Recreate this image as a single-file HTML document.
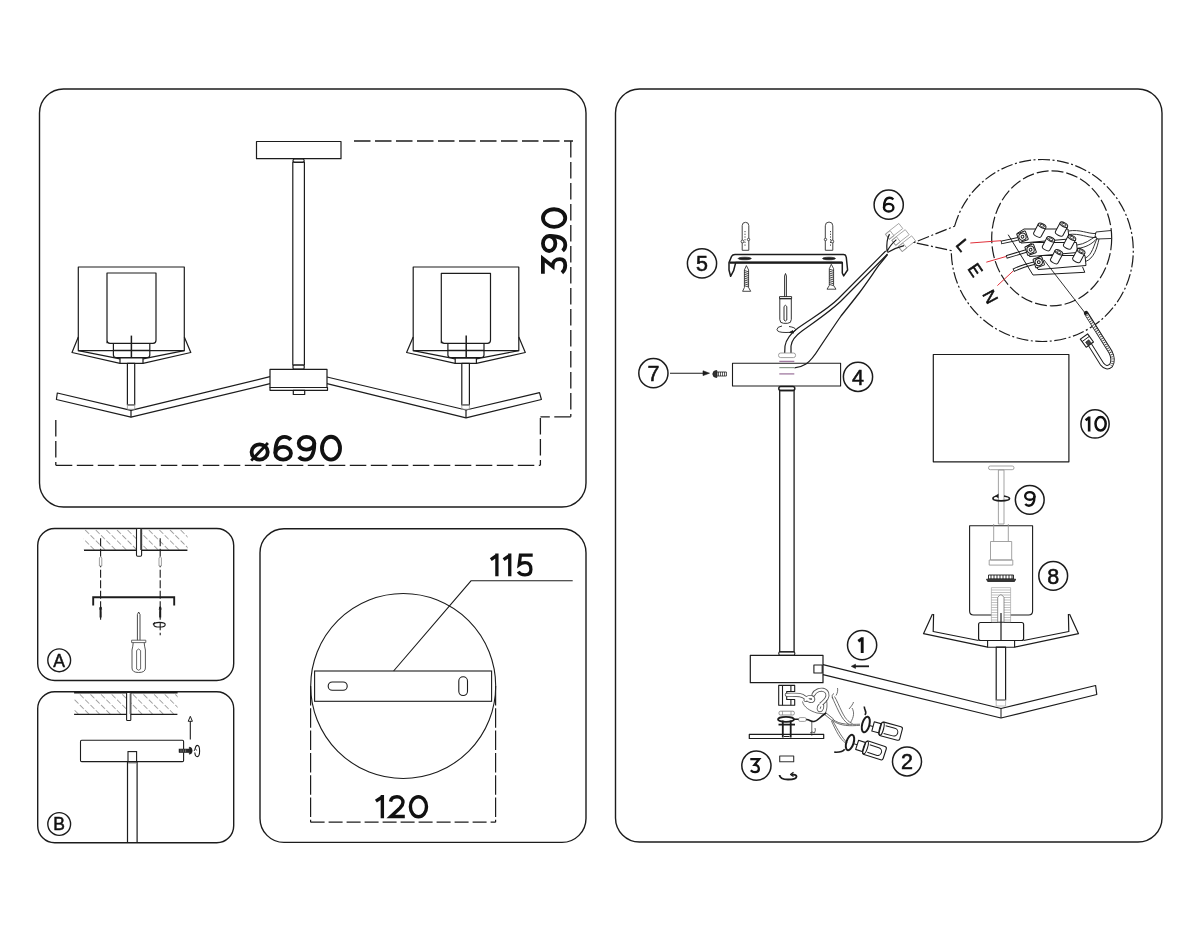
<!DOCTYPE html>
<html><head><meta charset="utf-8"><style>
html,body{margin:0;padding:0;background:#fff;width:1200px;height:933px;overflow:hidden}
svg{display:block;will-change:transform}
text{font-family:"Liberation Sans",sans-serif;fill:#111}
</style></head><body>
<svg width="1200" height="933" viewBox="0 0 1200 933">
<g fill="none" stroke="#1c1c1c" stroke-width="1.4" stroke-linejoin="round">
<!-- panel frames -->
<rect x="39.5" y="89" width="546.5" height="418" rx="24"/>
<rect x="37.7" y="528.5" width="196" height="152" rx="17"/>
<rect x="37.7" y="691.8" width="196" height="151" rx="17"/>
<rect x="260" y="528.8" width="326" height="313.6" rx="24"/>
<rect x="615.5" y="89" width="546.5" height="753" rx="24"/>
</g>

<!-- ============ TOP-LEFT: dimension drawing ============ -->
<g id="main" fill="none" stroke="#1c1c1c" stroke-width="1.2" stroke-linejoin="round">
  <!-- canopy + rod -->
  <rect x="256.5" y="141.5" width="84.5" height="17.2"/>
  <rect x="292.8" y="162" width="11.6" height="203"/>
  <rect x="293" y="159" width="11.2" height="3.5" rx="1.7"/>
  <rect x="293" y="365" width="11.2" height="4" rx="1"/>
  <!-- hub -->
  <rect x="270" y="369.3" width="57" height="18.2"/>
  <rect x="270" y="387.5" width="57.5" height="2.8"/>
  <rect x="293.3" y="390.3" width="11.4" height="4.2"/>
  <!-- arms -->
  <path d="M270 376.7 L131 410.3 L57.3 393 L56.4 399.5 L131 417.2 L270 383.7"/>
  <path d="M327 377 L466 410 L539.5 392.7 L541.4 399.5 L466 417.8 L327 383.7"/>
  <path d="M131 410.3 V417.2 M466 410 V417.8"/>
  <!-- left lamp -->
  <rect x="78.3" y="267" width="106" height="83.7"/>
  <path d="M107 343.3 V273 H156 V340.3 Q156 343.3 153 343.3 H110 Q107 343.3 107 340.3"/>
  <path d="M113.4 343.3 V355 Q113.4 357.5 116 357.5 H147.3 Q149.8 357.5 149.8 355 V343.3 M113.4 350.3 H149.8"/>
  <path d="M131.4 335.6 V357.5" stroke-width="1.5"/>
  <rect x="120" y="357.8" width="23" height="5.5"/>
  <path d="M78.3 337 L72 352.5 L120 363.3 M78.3 350.7 L120 358.8 M184.3 337 L190.8 352.5 L143 363.3 M184.3 350.7 L143 358.8"/>
  <rect x="127.4" y="363.3" width="7.3" height="41.5"/>
  <rect x="127.4" y="404.8" width="7.3" height="4.5" stroke="#999" stroke-width="0.8"/>
  <!-- right lamp -->
  <rect x="413.2" y="267" width="105.6" height="83.7"/>
  <path d="M441.3 343.3 V273.3 H490.5 V340.3 Q490.5 343.3 487.5 343.3 H444.3 Q441.3 343.3 441.3 340.3"/>
  <path d="M447.9 343.3 V355 Q447.9 357.5 450.5 357.5 H481.4 Q484 357.5 484 355 V343.3 M447.9 350.3 H484"/>
  <path d="M466.2 335.6 V357.5" stroke-width="1.5"/>
  <rect x="455.2" y="358.2" width="21.2" height="5.2"/>
  <path d="M413.2 337 L406.6 352.5 L455.2 363.4 M413.2 350.7 L455.2 358.8 M518.8 337 L525.3 352.5 L476.4 363.4 M518.8 350.7 L476.4 358.8"/>
  <rect x="461.8" y="363.4" width="7.6" height="41.5"/>
  <rect x="461.8" y="404.8" width="7.6" height="4.5" stroke="#999" stroke-width="0.8"/>
  <!-- dimension lines -->
  <g stroke-dasharray="16.5 4.5" stroke-width="1.3">
    <path d="M354 141 H573"/>
    <path d="M570.8 141 V416.8"/>
    <path d="M570.8 416.8 H540.4"/>
    <path d="M540.4 418 V465.3"/>
    <path d="M55.8 420 V465.3"/>
    <path d="M55.8 465.3 H540.4"/>
  </g>
</g>
<g fill="none" stroke="#111" stroke-width="3.8">
  <ellipse cx="259.65" cy="452" rx="8.1" ry="7.65"/>
  <path d="M251.2 460.6 L267.9 443" stroke-width="2.8"/>
  <ellipse cx="283.15" cy="453.3" rx="7.8" ry="6.4"/>
  <path d="M275.35 453.3 C275.35 442 278.4 436.95 284.6 436.95 C287.4 436.95 289.3 438 290.8 439.8"/>
  <g transform="rotate(180 294.825 448.3)">
    <ellipse cx="283.15" cy="453.3" rx="7.8" ry="6.4"/>
    <path d="M275.35 453.3 C275.35 442 278.4 436.95 284.6 436.95 C287.4 436.95 289.3 438 290.8 439.8"/>
  </g>
  <ellipse cx="331" cy="448.2" rx="9.05" ry="11.45"/>
</g>
<g fill="none" stroke="#111" stroke-width="3.8" transform="translate(567.2 275) rotate(-90)">
  <path d="M1.3 -24.3 H16.4 L8.6 -14.6 C13.6 -14.6 15.95 -11 15.95 -7.4 C15.95 -3.5 12.9 -1.95 9.4 -1.95 C6.2 -1.95 3.8 -3.3 2.2 -5.3"/>
  <ellipse cx="31.5" cy="-18.05" rx="7.5" ry="6.2"/>
  <path d="M39 -18.05 C39 -6.9 36 -1.9 30 -1.9 C27.3 -1.9 25.5 -2.9 24.1 -4.6"/>
  <ellipse cx="56.95" cy="-13.1" rx="8.8" ry="11.15"/>
</g>

<!-- ============ PANEL A ============ -->
<defs>
  <pattern id="hatch" patternUnits="userSpaceOnUse" width="7.5" height="7.5" patternTransform="rotate(-45)">
    <line x1="0" y1="0" x2="0" y2="7.5" stroke="#4a4a4a" stroke-width="1" stroke-dasharray="5.5 2"/>
  </pattern>
</defs>
<g fill="none" stroke="#1c1c1c" stroke-width="1.1">
  <rect x="83.8" y="529.5" width="103.8" height="20.5" fill="url(#hatch)" stroke="none"/>
  <path d="M84 550.2 H187.4" stroke-width="1.4"/>
  <rect x="136.5" y="528.5" width="5.1" height="27.8" rx="1.2" fill="#fff" stroke-width="1.1"/>
  <path d="M140.7 529 V550" stroke="#666" stroke-width="1.4"/>
  <path d="M100.6 538.3 V621.8 M160.2 538.3 V635.3" stroke-dasharray="8 2.5" stroke-width="1.1"/>
  <!-- dowels -->
  <path d="M99.4 558 Q100.6 555 101.8 558 V566 H99.4 Z M159 558 Q160.2 555 161.4 558 V566 H159 Z" stroke="#777" stroke-width="0.7" fill="#fff"/>
  <!-- bracket -->
  <path d="M93.2 605.6 V597.3 H174.2 V605.6" stroke-width="1.9"/>
  <!-- screws -->
  <path d="M100.6 607 V617.5 M160.2 607 V617.5" stroke-width="2"/>
  <path d="M99.5 609.5 L100.6 606.5 L101.7 609.5 M159.1 609.5 L160.2 606.5 L161.3 609.5" stroke-width="0.8"/>
  <!-- rotation -->
  <ellipse cx="159.5" cy="624.7" rx="5.7" ry="2.3" stroke-width="1.1"/>
  <path d="M155 622.5 L153 624.5" stroke-width="1.2"/>
  <!-- screwdriver -->
  <path d="M137.4 640.2 V614.5 L138.7 612 L140 614.5 V640.2" stroke-width="0.8"/>
  <path d="M131.6 640.2 H145.8 V642.6 H131.6 Z" stroke="#444" stroke-width="0.8"/>
  <path d="M133.2 642.6 Q133 646 132 650 V668 Q132 672.5 138.7 672.5 Q145.4 672.5 145.4 668 V650 Q144.4 646 144.2 642.6" stroke="#444" stroke-width="0.9"/>
  <path d="M136.6 650.5 V669 Q138.6 671.5 140.6 669 V650.5 Q138.6 647.5 136.6 650.5" stroke="#444" stroke-width="0.8"/>
  <circle cx="59.2" cy="660.3" r="11.4" stroke-width="1.4"/>
</g>
<text x="59.2" y="666.6" font-size="17.5" text-anchor="middle" stroke="#111" stroke-width="0.5">A</text>

<!-- ============ PANEL B ============ -->
<g fill="none" stroke="#1c1c1c" stroke-width="1.1">
  <rect x="74.1" y="693" width="103.5" height="21.3" fill="url(#hatch)" stroke="none"/>
  <path d="M74.1 692.6 H177.6" stroke-width="1.6"/>
  <path d="M74.1 714.4 H177.4" stroke-width="1.3"/>
  <rect x="126.6" y="692.5" width="4.2" height="28" rx="0.8" fill="#fff"/>
  <path d="M130.3 693 V714" stroke="#666" stroke-width="1.3"/>
  <rect x="80.5" y="740.2" width="103.1" height="21.4" rx="1.2"/>
  <rect x="128" y="751.6" width="8.6" height="10.4"/>
  <path d="M127.5 762 V842.5 M137.1 762 V842.5" stroke-width="1.2"/>
  <path d="M128 763.2 H136.6" stroke="#999" stroke-width="0.8"/>
  <path d="M190.3 739.4 V720" stroke-width="1.1"/>
  <path d="M188.2 721.3 L190.3 716.3 L192.4 721.3 Z" stroke-width="1" fill="#fff"/>
  <rect x="179" y="749" width="10.3" height="3.6" fill="#2a2a2a" stroke-width="0.5"/>
  <path d="M181 749.3 V752.3 M183.3 749.3 V752.3 M185.6 749.3 V752.3" stroke="#999" stroke-width="0.6"/>
  <path d="M189.3 747.1 Q192.2 747.3 192.2 750.7 Q192.2 754.1 189.3 754.2 Z" fill="#1c1c1c" stroke-width="0.6"/>
  <path d="M195.2 748.5 Q195.8 745.4 197.3 745.4 Q199.6 745.4 199.6 751 Q199.6 756.6 197.3 756.6 Q195.2 756.6 194.8 752.5" stroke-width="1.1"/>
  <path d="M194.2 751 L195.2 748.3 L196.6 750.5" stroke-width="0.9"/>
  <circle cx="59.2" cy="824" r="11.4" stroke-width="1.4"/>
</g>
<text x="59.2" y="830.3" font-size="17.5" text-anchor="middle" stroke="#111" stroke-width="0.5">B</text>

<!-- ============ PANEL 115/120 ============ -->
<g fill="none" stroke="#1c1c1c" stroke-width="1.1">
  <circle cx="403.2" cy="686" r="92.5"/>
  <rect x="314.6" y="671" width="177" height="30.3" fill="#fff"/>
  <rect x="328.2" y="682" width="19" height="8.3" rx="4.1"/>
  <rect x="458.8" y="676.8" width="8.7" height="18.7" rx="4.3"/>
  <path d="M393.6 671 L471 580.8 H572.7"/>
  <g stroke-dasharray="19.5 2.8" stroke-width="1.2">
    <path d="M310.6 686 V822.2 M495.6 686 V822.2"/>
    <path d="M310.6 822.2 H495.6" stroke-dasharray="14 4"/>
  </g>
</g>
<g fill="none" stroke="#111" stroke-width="3.3">
  <path d="M490.8 559.6 L496.9 555.3 M496.9 553.4 V576.3"/>
  <path d="M503.6 559.6 L509.75 555.3 M509.75 553.4 V576.3"/>
  <path d="M532.7 555.2 H520.4 L519.2 564.6 C520.8 563.3 522.8 562.7 525 562.7 C529.2 562.7 530.9 565.9 530.9 569.6 C530.9 573.4 528.2 574.9 525 574.9 C521.9 574.9 519.6 573.7 518.2 571.6"/>
</g>
<g fill="none" stroke="#111" stroke-width="3.4">
  <path d="M375.9 801.2 L382.35 796.8 M382.35 795.1 V818.2"/>
  <path d="M390.5 801.6 C391 798.6 393.6 796.8 397 796.8 C400.6 796.8 403 799.2 403 802.3 C403 804.6 401.8 806.2 400 808 L390.8 816.5 H404.8" stroke-linejoin="miter"/>
  <ellipse cx="418.45" cy="806.75" rx="8.05" ry="10.05"/>
</g>

<!-- ============ RIGHT PANEL ============ -->
<g id="rp" fill="none" stroke="#1c1c1c" stroke-width="1.1" stroke-linejoin="round">
  <!-- number circles -->
  <g stroke-width="1.5">
    <circle cx="702" cy="263.4" r="14.6"/>
    <circle cx="888.7" cy="204.7" r="14.6"/>
    <circle cx="653.4" cy="373.2" r="14.6"/>
    <circle cx="858" cy="376.8" r="14.6"/>
    <circle cx="1095.05" cy="423.95" r="14.1"/>
    <circle cx="1029.75" cy="499.8" r="14.4"/>
    <circle cx="1053.2" cy="575.8" r="14.4"/>
    <circle cx="862.1" cy="645.1" r="14.6"/>
    <circle cx="756.4" cy="765.6" r="14.6"/>
    <circle cx="907" cy="761.4" r="14.5"/>
  </g>

  <!-- bracket 5 -->
  <g stroke="#444" stroke-width="1">
    <path d="M742.2 250.3 V225.6 A3.3 3.3 0 0 1 748.8 225.6 V250.3 Z"/>
    <path d="M825.3 250.3 V225.8 A3.75 3.75 0 0 1 832.8 225.8 V250.3 Z"/>
    <path d="M745 231 V246 M830.5 231 V246" stroke-dasharray="1.2 1.5"/>
    <circle cx="742.5" cy="241.5" r="1.4" fill="#fff"/>
    <circle cx="748.5" cy="239.5" r="1.2" fill="#fff"/>
    <circle cx="825.5" cy="239.5" r="1.2" fill="#fff"/>
    <circle cx="832.3" cy="241.5" r="1.4" fill="#fff"/>
  </g>
  <path d="M729 262.6 L731.5 256.5 Q732.5 254.6 735 254.6 H843.5 Q846 254.6 846.3 257.5 L847.6 270 L843.7 275.9 L842.3 273 V262.6 H735.7 L733.6 270.7 L730.6 276.3 L729 270 Z" stroke-width="1.5"/>
  <path d="M729.5 262.6 H842.3" stroke-width="2.2"/>
  <ellipse cx="744.7" cy="258.5" rx="6.6" ry="1.3" fill="#1c1c1c" stroke-width="0.6"/>
  <ellipse cx="829" cy="258.5" rx="6.5" ry="1.3" fill="#1c1c1c" stroke-width="0.6"/>
  <!-- screws -->
  <g stroke-width="0.8">
    <path d="M746.4 265.6 L744.4 270 V287.5 L742.6 291.3 H750.7 L748.6 287.5 V270 Z"/>
    <path d="M744.4 270.5 L748.6 271.8 M744.4 272.4 L748.6 273.7 M744.4 274.3 L748.6 275.6 M744.4 276.2 L748.6 277.5 M744.4 278.1 L748.6 279.4 M744.4 280.0 L748.6 281.3 M744.4 281.9 L748.6 283.2 M744.4 283.8 L748.6 285.1 M744.4 285.7 L748.6 287.0"/>
    <path d="M831.3 264.3 L829.3 268.7 V285.5 L827 289.2 H836 L833.6 285.5 V268.7 Z"/>
    <path d="M829.3 269.2 L833.6 270.5 M829.3 271.1 L833.6 272.4 M829.3 273.0 L833.6 274.3 M829.3 274.9 L833.6 276.2 M829.3 276.8 L833.6 278.1 M829.3 278.7 L833.6 280.0 M829.3 280.6 L833.6 281.9 M829.3 282.5 L833.6 283.8 M829.3 284.4 L833.6 285.7"/>
  </g>
  <!-- screwdriver -->
  <g stroke-width="0.9">
    <path d="M784.6 296.6 V276 L785.5 273.5 L786.4 276 V296.6"/>
    <path d="M779.5 296.6 H791.6 V298.7 H779.5 Z"/>
    <path d="M779.8 298.7 H791.3 V319.5 Q791.3 323.3 787.5 323.3 H783.6 Q779.8 323.3 779.8 319.5 Z"/>
    <path d="M784 320 V306.5 Q785.4 304 786.8 306.5 V320 Q785.4 322 784 320"/>
    <path d="M789 326.5 Q795.5 327.5 795.5 329.5 Q795.5 332.5 786 332.5 Q777 332.5 777 329.5 Q777 326.8 782 326"/>
    <path d="M794 333 L789.5 332.5 L793 330.5" fill="#1c1c1c"/>
  </g>

  <!-- cable -->
  <path d="M885.7 251 L838 299 C828 309 812 318 798 328 C790 334 786 340 785 346 L784.7 353" stroke-width="1.2"/>
  <path d="M887.5 254 L843 299 C833 309.5 818 319.5 802 331 C795 336 791.5 341 791 346 L791 353" stroke-width="1.2"/>
  <path d="M887.5 254.5 C884 259 881.5 262 878.9 265.2 C874 272 866 284 859.2 293 C853 301 847 308.5 841 316 C834 326 826 338 820 347 C815 355 811 361 806 364 C802 366.5 798.5 367.7 794.5 367.8" stroke-width="1.3"/>
  <rect x="778.5" y="353" width="17.1" height="4.6" rx="2.2" stroke="#888" stroke-width="0.8"/>
  <!-- terminal (6) -->
  <g stroke="#9a9a9a" stroke-width="0.8" transform="translate(1.5 1.6)">
    <rect x="-8.5" y="-3.2" width="17" height="6.4" transform="translate(892.6 229.6) rotate(-38)"/>
    <rect x="-8.5" y="-3.2" width="17" height="6.4" transform="translate(899 235.8) rotate(-38)"/>
    <rect x="-8.5" y="-3.2" width="17" height="6.4" transform="translate(905.4 242) rotate(-38)"/>
    <rect x="-3" y="-3.2" width="6" height="6.4" transform="translate(888.2 233.5) rotate(-38)"/>
    <rect x="-3" y="-3.2" width="6" height="6.4" transform="translate(894.6 239.6) rotate(-38)"/>
    <rect x="-3" y="-3.2" width="6" height="6.4" transform="translate(901 245.8) rotate(-38)"/>
  </g>
  <path d="M887 251.8 Q886 240 889.5 234.1 M887 251.8 Q890 245 896.4 239.6 M887.5 252.5 Q895 248 904 245.7" stroke-width="1.2"/>

  <!-- canopy 4 -->
  <rect x="732.5" y="363.2" width="108.1" height="22.8"/>
  <path d="M779.3 361.4 H794.3" stroke="#a07aa0" stroke-width="1.3"/>
  <path d="M779.3 367.6 H794.3" stroke="#8a9a8a" stroke-width="1.2"/>
  <path d="M779.3 373.9 H794.3" stroke="#a07aa0" stroke-width="1.3"/>
  <!-- screw 7 + arrow -->
  <path d="M670 373.2 H706" stroke-width="1.1"/>
  <path d="M703 370.8 L709.5 373.2 L703 375.6 Z" fill="#1c1c1c" stroke-width="0.6"/>
  <path d="M716.8 370.5 Q712.8 370.5 712.8 374 Q712.8 377.5 716.8 377.5 Z" fill="#333" stroke-width="0.8"/>
  <rect x="716.8" y="372" width="9.6" height="4" stroke-width="0.8"/>
  <path d="M718.5 372 V376 M720.5 372 V376 M722.5 372 V376 M724.5 372 V376" stroke-width="0.7"/>

  <!-- main rod -->
  <rect x="779.7" y="390.5" width="14.4" height="261.3" stroke-width="1.3"/>
  <rect x="778.8" y="386.4" width="16" height="4.1" rx="2" stroke-width="1.5"/>
  <rect x="778.8" y="651.8" width="16" height="3.5" rx="1.2"/>
  <!-- hub -->
  <rect x="750.3" y="655.3" width="72.7" height="27.4" stroke-width="1.2"/>
  <rect x="813.9" y="665" width="8.3" height="8" stroke-width="1.1"/>
  <!-- below hub: C bracket -->
  <g stroke-width="1.1">
    <path d="M794.7 691.5 V685.4 H778.7 V705.2 H794.7 V699.5 H786.7 V691.5 Z"/>
    <path d="M782.5 685.4 V705.2 M790.9 685.4 V691.5 M790.9 699.5 V705.2"/>
  </g>
  <!-- grey wire knot -->
  <g stroke-linecap="round">
    <path id="k1" d="M786.7 694.8 C796 694.8 801 694 805 697.5 C808 700 810 701.8 812 701 C814 700 813.5 697.5 811.5 697 C809 696.5 806.5 698 805.5 700" stroke="#555" stroke-width="4"/>
    <path d="M786.7 694.8 C796 694.8 801 694 805 697.5 C808 700 810 701.8 812 701 C814 700 813.5 697.5 811.5 697 C809 696.5 806.5 698 805.5 700" stroke="#fff" stroke-width="2.3"/>
    <path d="M813.5 694.5 C815.5 690.5 820 689.3 823 689.8 C827.5 690.8 828.5 695 826.5 698.5 C824.5 702 820.5 704 819 707 C818 709.5 819.5 710.8 821 709.8 C822.5 708.5 822.5 705.5 821.5 703.5" stroke="#555" stroke-width="4"/>
    <path d="M813.5 694.5 C815.5 690.5 820 689.3 823 689.8 C827.5 690.8 828.5 695 826.5 698.5 C824.5 702 820.5 704 819 707 C818 709.5 819.5 710.8 821 709.8 C822.5 708.5 822.5 705.5 821.5 703.5" stroke="#fff" stroke-width="2.3"/>
  </g>
  <g stroke="#555" stroke-width="0.85">
    <path d="M802.5 701.5 C803.5 707 810 711 817 713 L824.5 714"/>
    <path d="M826.5 700 C827.5 705 827 709.5 825.5 713"/>
    <path d="M825.5 712.5 L833.5 719 M824.3 714.2 L832.3 720.7 M833.5 719 L832.3 720.7"/>
    <path d="M833 719.5 C840 725 850 724.5 860 724.2 M832.5 720.5 C841 726.5 850 726 860 725.3"/>
    <path d="M832.5 720.5 C838 730 842 738 847 742.5 M831.5 721 C836 731 840 739 845.5 743"/>
    <path d="M832 697 C834 701 836 706 839 712 C842 718 845 722 849 724.5 M834.5 696.5 C837 700.5 839 706 842 712 C845 718 848 722 852.5 723.5"/>
    <path d="M833 698.5 C831.5 696.5 832 694.5 834 693.5 M836 695.5 C837.5 693 838 690.5 837.5 688"/>
    <path d="M849 709 C851.5 706 853 704 853.5 702 M850.5 722.5 C854 717 854.5 712 852 708"/>
  </g>
  <!-- nut + washer + thread -->
  <rect x="779" y="711.2" width="15.4" height="3.8" rx="1.5" stroke="#888" stroke-width="0.9"/>
  <path d="M782.5 711.2 V715 M791 711.2 V715" stroke="#888" stroke-width="0.7"/>
  <ellipse cx="786" cy="719.3" rx="8" ry="2.5" stroke-width="1.8"/>
  <path d="M778.5 724.6 H795" stroke-width="1.8"/>
  <path d="M782.8 720.5 V737.5 M790.7 720.5 V737.5" stroke-width="1.8"/>
  <path d="M784 736.5 H789.5" stroke-width="1"/>
  <!-- wire out of washer -->
  <rect x="798.6" y="717.6" width="7.6" height="3.8" rx="1.5" stroke="#888" stroke-width="0.8"/>
  <path d="M794 719.3 H798.6 M806.2 719.5 C810 719.5 811 722 814 721.5 C818 721 820 717 824 714.5 L826 713" stroke-width="1.6"/>
  <path d="M811.8 721.8 V735.7" stroke-width="0.7"/>
  <path d="M810 733 Q812 731 814.5 733 Q816 730 815 728" stroke-width="0.7"/>
  <!-- base plate -->
  <rect x="749.3" y="734.4" width="74.4" height="4.1" stroke-width="1.2"/>
  <!-- item 3 -->
  <rect x="779.7" y="756" width="14" height="5.7" stroke="#333" stroke-width="1.1"/>
  <path d="M779.5 775 Q780 779.5 788 779.5 Q796.5 779.5 796.5 776.5 Q796.5 774.5 791.5 774.5" stroke-width="1.9"/>
  <path d="M793.5 772.3 L790.5 774.5 L793.5 776.5" stroke-width="1.2"/>
  <!-- bulbs -->
  <g id="bulb1" transform="translate(865.8 724.5) rotate(15)">
    <path d="M-3.5 -9 C-1 -12 -6 -14 -6 -17" stroke-width="1.6"/>
    <ellipse cx="0" cy="0" rx="3.6" ry="8" stroke-width="2"/>
    <path d="M3.6 0 H7.5" stroke-width="1"/>
    <rect x="7.5" y="-4.8" width="7.5" height="9.6" fill="#fff" stroke-width="1.1"/>
    <rect x="15" y="-7" width="21.5" height="14" rx="2" fill="#fff" stroke-width="1.1"/>
    <ellipse cx="16.3" cy="0" rx="2" ry="6.6" stroke-width="1.1"/>
    <path d="M19 0 V0 M19.5 -4 H29 A4 4 0 0 1 29 4 H19.5" stroke-width="1"/>
  </g>
  <g transform="translate(850 742.5) rotate(18)">
    <path d="M-3 8 C-4 11 -8 13 -12 14" stroke-width="1.6"/>
    <ellipse cx="0" cy="0" rx="3.6" ry="8" stroke-width="2"/>
    <path d="M3.6 0 H7.5" stroke-width="1"/>
    <rect x="7.5" y="-4.8" width="7.5" height="9.6" fill="#fff" stroke-width="1.1"/>
    <rect x="15" y="-7" width="21.5" height="14" rx="2" fill="#fff" stroke-width="1.1"/>
    <ellipse cx="16.3" cy="0" rx="2" ry="6.6" stroke-width="1.1"/>
    <path d="M19.5 -4 H29 A4 4 0 0 1 29 4 H19.5" stroke-width="1"/>
  </g>
  <!-- arrow near 1 -->
  <path d="M869 666.3 H855" stroke-width="1.8"/>
  <path d="M855.5 664.2 L851.3 666.3 L855.5 668.4 Z" fill="#1c1c1c" stroke-width="0.6"/>

  <!-- right arm -->
  <path d="M823 664.7 L1001 708.5 L1095.6 685.5 L1096.8 694.5 L1001 718 L823 674.6" stroke-width="1.2"/>
  <path d="M1001 708.5 V718" stroke-width="1"/>
  <!-- lamp assembly -->
  <rect x="996.2" y="647.2" width="9.4" height="52.8" stroke-width="1.2"/>
  <rect x="996.2" y="700" width="9.4" height="6" stroke="#aaa" stroke-width="0.8"/>
  <path d="M932.5 614 L923.5 633.7 L987.6 647.2 M933.6 614 L933.2 631.5 L978.6 640.5 M1069.5 614 L1078.5 633.7 L1014.6 647.2 M1068.4 614 L1068.8 631.5 L1023.6 640.5" stroke-width="1.2"/>
  <rect x="978.6" y="622.5" width="45" height="18" rx="2" stroke-width="1.2"/>
  <rect x="987.6" y="640.5" width="27" height="6.7" stroke-width="1.1"/>
  <path d="M969.6 525.7 V611 Q969.6 615 973.6 615 H1028.6 Q1032.6 615 1032.6 611 V525.7 Z" stroke-width="1.1"/>
  <!-- threaded nipple -->
  <g stroke="#999" stroke-width="0.6">
    <rect x="991.4" y="587.6" width="19.2" height="34.4" fill="#fff"/>
    <path d="M991.4 590 H1010.6 M991.4 592.5 H1010.6 M991.4 595 H1010.6 M991.4 597.5 H1010.6 M991.4 600 H1010.6 M991.4 602.5 H1010.6 M991.4 605 H1010.6 M991.4 607.5 H1010.6 M991.4 610 H1010.6 M991.4 612.5 H1010.6 M991.4 615 H1010.6 M991.4 617.5 H1010.6 M991.4 620 H1010.6"/>
    <path d="M997.7 622 V597.5 Q1000.9 592 1004 597.5 V622 Z" fill="#fff" stroke="#777" stroke-width="0.8"/>
  </g>
  <path d="M1001 613 V640" stroke-width="1.2"/>
  <!-- ring -->
  <rect x="988.5" y="575" width="25" height="4" fill="#fff" stroke-width="0.9"/>
  <path d="M991 575 V579 M994 575 V579 M997 575 V579 M1000 575 V579 M1003 575 V579 M1006 575 V579 M1009 575 V579 M1012 575 V579" stroke-width="0.9"/>
  <path d="M986.5 579.2 H1015.7 L1014.5 581.5 H987.7 Z" fill="#333" stroke-width="0.8"/>
  <!-- socket -->
  <g stroke="#999" stroke-width="0.9">
    <path d="M993.7 524 V541.5 M1008.3 524 V541.5"/>
    <rect x="990.5" y="541.5" width="21.2" height="18.5"/>
    <rect x="989.2" y="560" width="23.6" height="5.1"/>
    <rect x="998.4" y="470" width="5.6" height="54"/>
    <rect x="988.5" y="466" width="25.5" height="3.7" rx="1.8"/>
  </g>
  <!-- rotation 9 -->
  <path d="M1004 496 Q1009.5 497 1009.5 498.5 Q1009.5 500.8 1001 500.8 Q993 500.8 993 498.5 Q993 496.5 997.5 496" stroke-width="1.7"/>
  <path d="M998.5 494 L995.5 496 L998.5 498" fill="#1c1c1c" stroke-width="0.6"/>
  <!-- shade 10 -->
  <rect x="933.3" y="354.5" width="135.6" height="107.3" stroke-width="1.2"/>

  <!-- magnifier -->
  <path d="M954.6 226.2 A91 91 0 1 1 951.3 250.6 L914 242.5 Z" stroke-width="1.2" stroke-dasharray="12 2.5 2 2.5"/>
  <ellipse cx="1051.7" cy="238.3" rx="60" ry="67.5" stroke-width="1.2" stroke-dasharray="12 3"/>
  <!-- red wires -->
  <g stroke="#e0303a" stroke-width="1">
    <path d="M970.3 243 L1001 240.7"/>
    <path d="M986.3 262.2 L1006 256.5"/>
    <path d="M997.4 285.6 L1013.4 270.8"/>
  </g>
  <!-- wire sleeves -->
  <g stroke-linecap="butt">
    <path d="M1001 242.5 L1019 238.6 M1006.3 257 L1027 250.8 M1013.3 270.3 C1018 268 1025 265.5 1035 263" stroke="#1c1c1c" stroke-width="3.6"/>
    <path d="M1001.8 242.3 L1019 238.6 M1007.1 256.8 L1027 250.8 M1014.1 270 C1018 268 1025 265.5 1035 263" stroke="#fff" stroke-width="1.7"/>
  </g>
  <!-- terminal base plate -->
  <path d="M1008.2 234.7 L1033 275 L1084.8 272.3 L1082.5 266.8" stroke-width="1"/>
  <!-- terminal bars -->
  <g stroke-width="1" fill="#fff">
    <path d="M1017 233.5 L1024 229 H1068 L1069 239 L1028 242.5 L1021 243 Z"/>
    <path d="M1025.5 247 L1032.5 242.5 H1076.5 L1077.5 252.5 L1036.5 256 L1029.5 256.5 Z"/>
    <path d="M1034 260 L1041 255.5 H1085 L1086 265.5 L1045 269 L1038 269.5 Z"/>
  </g>
  <g stroke-width="1" fill="#fff">
    <g transform="translate(1022.5 236.7) rotate(-20)"><rect x="-4.6" y="-4.6" width="9.2" height="9.2" rx="0.8"/><circle r="3.6"/><circle r="1.4"/></g>
    <g transform="translate(1030.6 249.7) rotate(-20)"><rect x="-4.6" y="-4.6" width="9.2" height="9.2" rx="0.8"/><circle r="3.6"/><circle r="1.4"/></g>
    <g transform="translate(1038.75 262.1) rotate(-20)"><rect x="-4.6" y="-4.6" width="9.2" height="9.2" rx="0.8"/><circle r="3.6"/><circle r="1.4"/></g>
    <g transform="translate(1039.8 230.2) rotate(28)"><path d="M-4.2 -5 V5 A4.2 2 0 0 0 4.2 5 V-5"/><ellipse cx="0" cy="-5" rx="4.2" ry="2"/><ellipse cx="0" cy="-5" rx="2.4" ry="1.1" stroke-width="0.8"/></g>
    <g transform="translate(1061.5 229.1) rotate(28)"><path d="M-4.2 -5 V5 A4.2 2 0 0 0 4.2 5 V-5"/><ellipse cx="0" cy="-5" rx="4.2" ry="2"/><ellipse cx="0" cy="-5" rx="2.4" ry="1.1" stroke-width="0.8"/></g>
    <g transform="translate(1048.5 243.7) rotate(28)"><path d="M-4.2 -5 V5 A4.2 2 0 0 0 4.2 5 V-5"/><ellipse cx="0" cy="-5" rx="4.2" ry="2"/><ellipse cx="0" cy="-5" rx="2.4" ry="1.1" stroke-width="0.8"/></g>
    <g transform="translate(1069.6 242.1) rotate(28)"><path d="M-4.2 -5 V5 A4.2 2 0 0 0 4.2 5 V-5"/><ellipse cx="0" cy="-5" rx="4.2" ry="2"/><ellipse cx="0" cy="-5" rx="2.4" ry="1.1" stroke-width="0.8"/></g>
    <g transform="translate(1056.6 256.7) rotate(28)"><path d="M-4.2 -5 V5 A4.2 2 0 0 0 4.2 5 V-5"/><ellipse cx="0" cy="-5" rx="4.2" ry="2"/><ellipse cx="0" cy="-5" rx="2.4" ry="1.1" stroke-width="0.8"/></g>
    <g transform="translate(1078.8 255.6) rotate(28)"><path d="M-4.2 -5 V5 A4.2 2 0 0 0 4.2 5 V-5"/><ellipse cx="0" cy="-5" rx="4.2" ry="2"/><ellipse cx="0" cy="-5" rx="2.4" ry="1.1" stroke-width="0.8"/></g>
  </g>
  <!-- wires to the right -->
  <g stroke-width="0.9">
    <path d="M1068.5 231 C1080 229 1088 234 1096 233.5 M1068.5 234.5 C1080 233 1088 238 1096 237.5"/>
    <path d="M1077 245 C1085 244 1090 240 1096 236 M1077 248.5 C1086 247.5 1092 244 1097 238.5"/>
    <path d="M1085.5 258 C1092 255 1094 245 1097 238.5 M1085.5 261.5 C1094 258.5 1097 248 1099 239"/>
    <path d="M1096 232 L1111 230.5 M1097 239 L1111 238.5 M1096 232 Q1094 235.5 1097 239"/>
  </g>
  <!-- strap -->
  <path d="M1044 260 L1085.5 313.5" stroke-width="0.9"/>
  <path d="M1086 313 L1110.5 352 Q1114.5 360 1111 365.5 Q1106.5 369.5 1102 364 L1089.5 344" stroke-width="4.4" stroke-linecap="round"/>
  <path d="M1086.6 314.5 L1110.5 352 Q1114.5 360 1111 365.5 Q1106.5 369.5 1102 364 L1089.5 344" stroke="#fff" stroke-width="2.5"/>
  <path d="M1087 315 L1110.5 352 Q1114.5 360 1111 365.5" stroke="#333" stroke-width="2.5" stroke-dasharray="0.8 1.5"/>
  <g transform="translate(1087.2 341) rotate(-36)">
    <rect x="-4.5" y="-5.5" width="9" height="10" fill="#fff" stroke-width="1.1"/>
    <path d="M-4.5 -2.5 H4.5" stroke-width="0.9"/>
    <rect x="-2" y="0" width="4" height="4" fill="#444" stroke-width="0.6"/>
  </g>
</g>
<g font-size="17.5" text-anchor="middle" stroke="#111" stroke-width="0.6">
  <text transform="translate(962.8 245.2) rotate(50)" y="6">L</text>
  <text transform="translate(975.2 270) rotate(56)" y="6">E</text>
  <text transform="translate(990.2 296.7) rotate(62)" y="6">N</text>
</g>

<g fill="none" stroke="#111" stroke-width="2.6">
  <path d="M1085.6 420.2 L1089.15 417.6 M1089.15 416.4 V431.6"/>
  <ellipse cx="1100.6" cy="423.85" rx="5.1" ry="6.75" stroke-width="2.5"/>
  <path d="M858.3 641.3 L862.2 638.5 M862.2 637.3 V652.9" stroke-width="2.9"/>
</g>
<g fill="none" stroke="#111">
  <g transform="translate(882.8 196.6) scale(0.605)" stroke-width="3.88"><ellipse cx="9.75" cy="18.3" rx="7.8" ry="6.4"/><path d="M1.95 18.3 C1.95 7 5 1.95 11.2 1.95 C14 1.95 15.9 3 17.4 4.8"/></g>
  <g transform="translate(1024 491) scale(0.598)" stroke-width="3.93"><g transform="rotate(180 9.75 13.3)"><ellipse cx="9.75" cy="18.3" rx="7.8" ry="6.4"/><path d="M1.95 18.3 C1.95 7 5 1.95 11.2 1.95 C14 1.95 15.9 3 17.4 4.8"/></g></g>
  <g transform="translate(750 758) scale(0.584) translate(-0.8 26.2)" stroke-width="3.94"><path d="M1.3 -24.3 H16.4 L8.6 -14.6 C13.6 -14.6 15.95 -11 15.95 -7.4 C15.95 -3.5 12.9 -1.95 9.4 -1.95 C6.2 -1.95 3.8 -3.3 2.2 -5.3"/></g>
</g>
<g font-size="21.5" text-anchor="middle" stroke="#111" stroke-width="0.55">
  <text x="702" y="271.4">5</text>
  <text x="653.4" y="381.2">7</text>
  <text x="858" y="384.8">4</text>
  <text x="1053.2" y="583.6">8</text>
  <text x="907" y="769.2">2</text>
</g>

</svg>
</body></html>
